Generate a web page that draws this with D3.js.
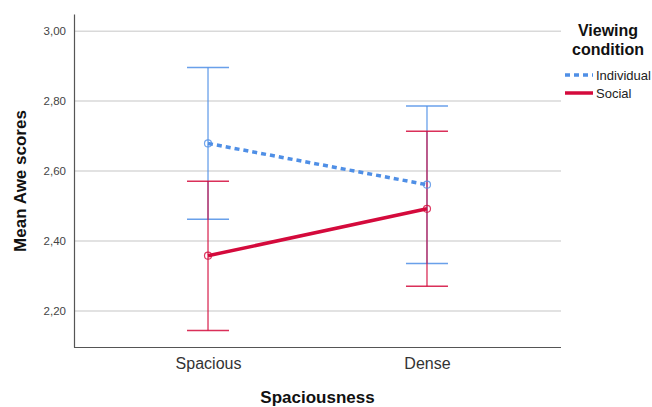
<!DOCTYPE html>
<html>
  <head>
    <script src="https://d3js.org/d3.v7.min.js"></script>
    <style>
      body { margin: 0; background: #fff; }
      svg, svg text { font-family: Arial, "Liberation Sans", sans-serif; }
      .grid line { stroke: #d9d9d9; stroke-width: 1.5; }
    </style>
  </head>
  <body>
    <svg width="652" height="407"></svg>
    <script>
      const categories = ["Spacious", "Dense"];
      const seriesNames = ["Individual", "Social"];
      const individualMean = [2.679, 2.561];
      const individualLow = [2.462, 2.336];
      const individualHigh = [2.896, 2.786];
      const socialMean = [2.358, 2.492];
      const socialLow = [2.144, 2.271];
      const socialHigh = [2.571, 2.714];
      const yTicks = [2.2, 2.4, 2.6, 2.8, 3.0];

      const series = [
        { name: "Individual", color: "#4f8fe6", dash: "5,4", mean: individualMean, low: individualLow, high: individualHigh },
        { name: "Social", color: "#d40a3c", dash: null, mean: socialMean, low: socialLow, high: socialHigh }
      ];

      const svg = d3.select("svg");
      const plotLeft = 74, plotRight = 561, plotTop = 14, plotBottom = 347;

      const x = d3.scalePoint().domain(categories).range([plotLeft, plotRight]).padding(0.612);
      const y = d3.scaleLinear().domain([2.097, 3.049]).range([plotBottom, plotTop]);
      const fmt = d => d3.format(".2f")(d).replace(".", ",");

      // grid
      svg.append("g").attr("class", "grid")
        .selectAll("line").data(yTicks).join("line")
        .attr("x1", plotLeft).attr("x2", plotRight)
        .attr("y1", d => y(d)).attr("y2", d => y(d));

      // axes
      const yAxis = svg.append("g")
        .attr("transform", `translate(${plotLeft},0)`)
        .call(d3.axisLeft(y).tickValues(yTicks).tickFormat(fmt).tickSize(0).tickPadding(8))
        .attr("font-family", null);
      yAxis.select(".domain").attr("stroke", "#555").attr("stroke-width", 1.2);
      yAxis.selectAll("text").attr("fill", "#444").style("font-size", "11.5px");

      const xAxis = svg.append("g")
        .attr("transform", `translate(0,${plotBottom})`)
        .call(d3.axisBottom(x).tickSize(0).tickPadding(11).tickSizeOuter(0))
        .attr("font-family", null);
      xAxis.select(".domain").attr("stroke", "#555").attr("stroke-width", 1.2)
        .attr("d", `M${plotLeft},0.5H${plotRight}`);
      xAxis.selectAll("text").attr("fill", "#333").style("font-size", "16px");

      // error bars
      const cap = 21;
      series.forEach(s => {
        const g = svg.append("g").attr("stroke", s.color).attr("fill", "none").attr("stroke-opacity", 0.85);
        categories.forEach((c, i) => {
          const cx = x(c);
          g.append("line").attr("x1", cx).attr("x2", cx).attr("y1", y(s.low[i])).attr("y2", y(s.high[i])).attr("stroke-width", 1.3);
          g.append("line").attr("x1", cx - cap).attr("x2", cx + cap).attr("y1", y(s.low[i])).attr("y2", y(s.low[i])).attr("stroke-width", 1.5);
          g.append("line").attr("x1", cx - cap).attr("x2", cx + cap).attr("y1", y(s.high[i])).attr("y2", y(s.high[i])).attr("stroke-width", 1.5);
        });
      });

      // lines and markers
      const line = d3.line().x(d => x(d.c)).y(d => y(d.v));
      series.forEach(s => {
        const pts = categories.map((c, i) => ({ c, v: s.mean[i] }));
        svg.append("path").datum(pts)
          .attr("d", line)
          .attr("fill", "none")
          .attr("stroke", s.color)
          .attr("stroke-width", 3.5)
          .attr("stroke-dasharray", s.dash);
        svg.append("g").selectAll("circle").data(pts).join("circle")
          .attr("cx", d => x(d.c)).attr("cy", d => y(d.v)).attr("r", 3.5)
          .attr("fill", "none").attr("stroke", s.color).attr("stroke-opacity", 0.8).attr("stroke-width", 1.2);
      });

      // axis titles
      svg.append("text")
        .attr("x", (plotLeft + plotRight) / 2).attr("y", 403)
        .attr("text-anchor", "middle")
        .style("font-size", "17px").style("font-weight", "bold").attr("fill", "#111")
        .text("Spaciousness");

      svg.append("text")
        .attr("transform", "rotate(-90)")
        .attr("x", -181).attr("y", 26)
        .attr("text-anchor", "middle")
        .style("font-size", "17px").style("font-weight", "bold").attr("fill", "#111")
        .text("Mean Awe scores");

      // legend
      const legend = svg.append("g");
      legend.append("text").attr("x", 608).attr("y", 36).attr("text-anchor", "middle")
        .style("font-size", "16px").style("font-weight", "bold").attr("fill", "#111").text("Viewing");
      legend.append("text").attr("x", 608).attr("y", 55).attr("text-anchor", "middle")
        .style("font-size", "16px").style("font-weight", "bold").attr("fill", "#111").text("condition");

      series.forEach((s, i) => {
        const ly = 75 + i * 18;
        legend.append("line").attr("x1", 565).attr("x2", 593).attr("y1", ly).attr("y2", ly)
          .attr("stroke", s.color).attr("stroke-width", 3.5).attr("stroke-dasharray", s.dash);
        legend.append("text").attr("x", 596).attr("y", ly + 4.5)
          .style("font-size", "13px").attr("fill", "#222").text(seriesNames[i]);
      });
    </script>
  </body>
</html>
